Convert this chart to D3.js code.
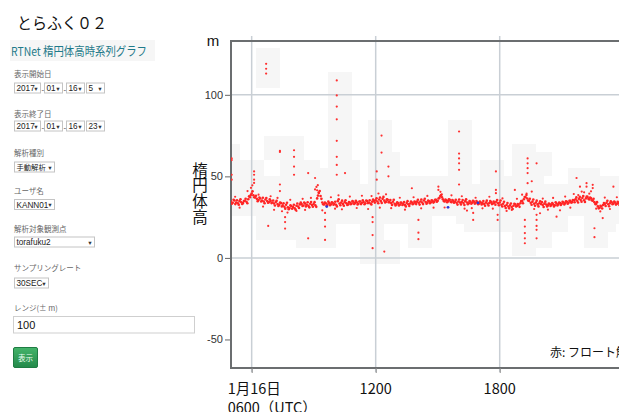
<!DOCTYPE html>
<html>
<head>
<meta charset="utf-8">
<script src="https://cdn.jsdelivr.net/npm/d3@7"></script>
<style>
  html, body { margin: 0; padding: 0; background: #fff; }
  svg { display: block; }
</style>
</head>
<body>
<svg id="page" width="619" height="412"></svg>
<script>
// ---- Form values shown in the side panel ----
const pageTitle = "とらふく０２";
const panelHeading = "RTNet 楕円体高時系列グラフ";
const startDate = ["2017", "01", "16", "5"];
const endDate = ["2017", "01", "16", "23"];
const analysisType = "手動解析";
const userName = "KANN01";
const stationName = "torafuku2";
const samplingRate = "30SEC";
const rangeValue = "100";

// ---- Chart data (UTC, 2017-01-16) ----
const traceStart = "05:00";          // first sample on the hour
const traceMidStart = "05:02:30";    // samples between them
const traceStepMinutes = 5;
// ellipsoidal height (m), one value per 5 minutes, one row per hour
const traceValues = [
  34.5, 33.8, 35.2, 34.0, 33.5, 34.8, 34.1, 33.6, 35.0, 34.4, 36.0, 37.2,
  39.5, 38.4, 37.0, 36.2, 35.5, 36.4, 35.2, 34.6, 35.8, 34.9, 34.2, 35.0,
  34.0, 33.4, 34.3, 33.1, 32.5, 33.6, 32.2, 31.4, 32.6, 31.0, 30.6, 31.8,
  31.2, 30.4, 32.0, 31.5, 32.8, 33.0, 32.1, 33.3, 32.6, 31.9, 33.2, 32.4,
  33.0, 32.2, 36.5, 39.8, 38.0, 34.0, 32.8, 33.5, 32.7, 33.6, 32.9, 33.8,
  33.1, 32.6, 34.8, 33.4, 33.9, 33.0, 34.2, 33.5, 32.8, 34.0, 33.3, 34.4,
  33.6, 34.1, 33.2, 34.6, 33.8, 34.3, 33.5, 34.9, 34.0, 33.4, 34.5, 35.0,
  35.4, 34.6, 35.8, 34.8, 36.2, 35.1, 34.5, 35.6, 34.2, 33.6, 34.4, 33.2,
  32.8, 33.5, 32.6, 33.8, 33.0, 32.4, 33.6, 32.9, 33.4, 34.0, 33.3, 34.2,
  34.5, 33.8, 34.6, 34.0, 35.2, 34.3, 33.9, 34.7, 34.1, 35.0, 34.4, 35.6,
  35.0, 36.8, 38.5, 36.0, 34.6, 35.4, 34.8, 35.6, 34.2, 35.0, 34.4, 33.8,
  34.6, 33.9, 34.3, 33.6, 34.8, 34.0, 33.5, 34.4, 33.8, 34.5, 33.6, 34.1,
  33.4, 34.0, 33.6, 33.1, 33.9, 33.2, 33.7, 34.2, 33.3, 33.8, 34.4, 33.5,
  34.0, 32.6, 33.2, 31.8, 32.4, 31.5, 32.2, 31.2, 32.0, 32.8, 31.9, 32.6,
  33.5, 34.8, 36.0, 37.2, 36.4, 35.0, 33.8, 34.5, 33.2, 33.9, 32.8, 33.5,
  33.0, 32.4, 33.3, 32.7, 32.2, 33.1, 32.5, 32.9, 32.3, 33.4, 32.8, 33.6,
  33.2, 34.0, 33.5, 34.4, 33.8, 35.0, 34.2, 35.4, 35.9, 35.0, 36.2, 35.6,
  36.8, 35.4, 36.5, 37.4, 35.8, 36.6, 35.1, 34.2, 33.0, 31.6, 30.8, 31.5,
  32.4, 33.0, 33.8, 32.9, 33.5, 34.1, 33.3, 33.9, 33.2, 33.7, 34.0, 33.4
];
// the in-between samples (2.5 minutes later), noisier
const traceMidValues = [
  33.2, 35.6, 33.0, 35.4, 32.6, 35.9, 33.1, 34.9, 36.3, 33.5, 37.8, 38.6,
  40.8, 37.2, 38.1, 34.8, 37.0, 34.6, 36.9, 33.5, 36.7, 33.8, 35.9, 33.6,
  35.2, 32.1, 35.0, 31.8, 33.9, 31.5, 33.5, 30.2, 33.8, 29.8, 32.2, 30.1,
  32.6, 29.6, 33.4, 30.6, 34.0, 31.8, 33.9, 31.6, 34.1, 31.0, 34.3, 31.4,
  34.2, 31.3, 38.2, 41.0, 36.2, 32.9, 34.0, 32.0, 34.5, 32.3, 34.1, 32.6,
  34.4, 31.6, 35.9, 32.3, 35.1, 32.0, 35.3, 32.4, 34.2, 32.9, 34.8, 33.1,
  35.0, 32.8, 34.6, 33.0, 35.4, 32.9, 35.1, 33.6, 35.3, 32.8, 35.8, 33.9,
  36.6, 33.5, 37.0, 33.7, 37.4, 34.0, 35.9, 34.2, 35.5, 32.5, 35.6, 32.1,
  34.1, 32.2, 33.9, 32.5, 34.3, 31.6, 34.8, 31.8, 34.6, 32.9, 34.5, 33.0,
  35.7, 32.7, 35.8, 33.0, 36.3, 33.2, 35.2, 33.5, 35.4, 33.9, 35.7, 34.4,
  36.4, 38.0, 37.2, 34.9, 35.8, 34.1, 36.0, 34.4, 35.5, 33.8, 35.6, 32.7,
  35.8, 32.8, 35.5, 32.4, 35.9, 32.9, 34.8, 33.2, 35.0, 33.3, 34.9, 32.9,
  34.6, 32.8, 34.9, 32.0, 35.1, 32.1, 34.9, 33.0, 34.6, 32.6, 35.5, 32.3,
  35.2, 31.5, 34.4, 30.6, 33.6, 30.4, 33.4, 30.0, 33.2, 31.6, 33.1, 31.3,
  34.8, 33.5, 37.3, 38.6, 35.2, 36.3, 32.6, 35.8, 32.0, 35.1, 31.6, 34.7,
  34.2, 31.2, 34.5, 31.5, 33.4, 31.9, 33.7, 31.6, 34.1, 32.2, 34.0, 32.4,
  34.4, 32.8, 34.7, 33.2, 35.0, 33.9, 35.5, 34.1, 37.1, 34.0, 37.4, 34.5,
  38.0, 34.3, 37.7, 36.2, 37.0, 35.4, 36.3, 33.0, 34.2, 30.4, 32.0, 30.3,
  33.6, 31.8, 35.0, 31.7, 34.7, 32.9, 34.5, 32.7, 34.4, 32.5, 35.2, 32.2
];
// float solutions scattered just off the main track
const floatScatter = [
  ["05:12", 37.5], ["05:25", 30.8], ["05:48", 41.0], ["05:58", 43.0], ["06:02", 44.5],
  ["06:20", 38.8], ["06:33", 31.5], ["06:55", 37.8], ["07:05", 29.5], ["07:15", 36.8],
  ["07:28", 28.6], ["07:44", 27.8], ["07:52", 35.6], ["08:10", 28.8], ["08:28", 36.2],
  ["08:35", 29.4], ["08:52", 36.8], ["09:08", 43.5], ["09:10", 41.5], ["09:12", 44.6],
  ["09:14", 40.2], ["09:25", 29.2], ["09:50", 37.2], ["10:02", 30.2], ["10:12", 38.4],
  ["10:22", 29.8], ["10:45", 37.6], ["11:05", 30.6], ["11:20", 38.1], ["11:38", 30.0],
  ["11:48", 37.9], ["12:08", 39.5], ["12:12", 30.8], ["12:30", 39.0], ["12:45", 30.5],
  ["13:10", 36.9], ["13:25", 29.6], ["13:50", 37.2], ["14:12", 30.4], ["14:30", 38.0],
  ["14:48", 30.8], ["15:08", 40.5], ["15:12", 39.0], ["15:20", 30.9], ["15:40", 38.4],
  ["16:10", 37.8], ["16:18", 30.2], ["16:50", 36.9], ["17:10", 30.4], ["17:30", 37.5],
  ["17:40", 30.2], ["18:08", 36.5], ["18:20", 28.8], ["18:35", 29.4], ["18:50", 36.2],
  ["19:05", 38.8], ["19:18", 39.5], ["19:40", 30.0], ["20:05", 36.4], ["20:20", 29.6],
  ["20:35", 36.8], ["20:55", 29.2], ["21:10", 37.6], ["21:25", 30.8], ["21:35", 39.2],
  ["21:48", 38.5], ["22:05", 40.2], ["22:20", 39.4], ["22:25", 40.8], ["22:40", 30.2],
  ["22:52", 28.5], ["23:05", 37.0], ["23:20", 30.0], ["23:40", 37.2]
];
// float solutions far from the track
const floatOutliers = [
  ["05:02", 61], ["05:02", 60], ["05:02", 51], ["05:02", 48],
  ["06:07", 53], ["06:07", 51], ["06:07", 48], ["06:07", 46],
  ["06:42", 119], ["06:42", 116], ["06:42", 113],
  ["06:48", 19.6],
  ["07:22", 65.6], ["07:22", 65], ["07:22", 45], ["07:22", 41],
  ["07:37", 25], ["07:37", 22], ["07:37", 18],
  ["08:03", 66], ["08:03", 62], ["08:03", 56], ["08:03", 51],
  ["08:44", 52], ["08:44", 12],
  ["09:04", 49], ["09:04", 42],
  ["09:33", 27.6], ["09:33", 23.3], ["09:33", 19.2], ["09:33", 11],
  ["10:07", 108.8], ["10:07", 99.6], ["10:07", 92.8], ["10:07", 85], ["10:07", 71.8],
  ["10:07", 62], ["10:07", 57], ["10:07", 51],
  ["10:31", 52],
  ["11:51", 14], ["11:51", 6], ["11:51", 25], ["11:51", 22],
  ["12:03", 53], ["12:03", 48],
  ["12:17", 75], ["12:17", 64.6],
  ["12:25", 3.9],
  ["12:37", 56], ["12:37", 50],
  ["13:45", 42.7],
  ["14:04", 23.3], ["14:04", 15.5], ["14:04", 11.5],
  ["15:02", 43.7], ["15:02", 41.7],
  ["16:02", 77.5], ["16:02", 64], ["16:02", 61], ["16:02", 58], ["16:02", 54], ["16:02", 45],
  ["16:25", 29], ["16:39", 30.5], ["16:43", 23.3], ["16:43", 27.6],
  ["17:49", 53], ["17:49", 41.7], ["17:49", 39.7],
  ["17:54", 26.4], ["17:54", 23.3],
  ["18:44", 41.7],
  ["19:13", 23.3], ["19:13", 19.2], ["19:13", 15.2], ["19:13", 12], ["19:13", 9],
  ["19:21", 45.8], ["19:21", 61], ["19:21", 58], ["19:21", 55], ["19:21", 52],
  ["19:33", 47], ["19:33", 40.7],
  ["19:47", 58], ["19:47", 26.4], ["19:47", 23.3], ["19:47", 19.6], ["19:47", 17.2], ["19:47", 12],
  ["19:57", 27.4],
  ["20:45", 25.3],
  ["21:43", 49], ["21:53", 43.7], ["21:58", 40.7],
  ["22:12", 45.8], ["22:12", 43.7],
  ["22:30", 44.8], ["22:30", 42.8],
  ["22:35", 18.2], ["22:35", 12.7],
  ["22:59", 24.4],
  ["23:30", 43.7]
];
// fixed solutions
const fixPoints = [["09:38", 31.5], ["15:30", 31.0], ["16:57", 33.7]];

const yTickValues = [100, 50, 0, -50];
const yGridValues = [100, 0];
const xTickTimes = ["06:00", "12:00", "18:00"];
const xTickLabels = [["1月16日", "0600（UTC）"], ["1200"], ["1800"]];
const yTitle = "楕円体高";
const yUnit = "m";
const legendText = "赤: フロート解";

// ---- helpers ----
const parseT = d3.timeParse("%Y-%m-%d %H:%M");
const parseTs = d3.timeParse("%Y-%m-%d %H:%M:%S");
const t = hm => parseT("2017-01-16 " + hm);
const t0 = t(traceStart);
const t0mid = parseTs("2017-01-16 " + traceMidStart);
const trace = traceValues.map((v, i) => [d3.timeMinute.offset(t0, i * traceStepMinutes), v])
  .concat(traceMidValues.map((v, i) => [d3.timeMinute.offset(t0mid, i * traceStepMinutes), v]));
const scatter = floatScatter.concat(floatOutliers).map(([hm, v]) => [t(hm), v]);
const fixed = fixPoints.map(([hm, v]) => [t(hm), v]);

const svg = d3.select("#page");
const W = 619, H = 412;
svg.append("rect").attr("width", W).attr("height", H).attr("fill", "#fff");

const CJK = "'Noto Sans CJK JP', 'Noto Sans', sans-serif";
const LAT = "'Liberation Sans', Arial, sans-serif";

// ---- side panel ----
const panel = svg.append("g");
panel.append("text").attr("x", 17).attr("y", 29)
  .attr("font-family", CJK).attr("font-size", 16).attr("fill", "#111")
  .attr("textLength", 90).attr("lengthAdjust", "spacingAndGlyphs").text(pageTitle);
panel.append("rect").attr("x", 10).attr("y", 40).attr("width", 145).attr("height", 21)
  .attr("fill", "#f6f6f6");
panel.append("text").attr("x", 11).attr("y", 56)
  .attr("font-family", CJK).attr("font-size", 12).attr("fill", "#1f7a8a")
  .attr("textLength", 136).attr("lengthAdjust", "spacingAndGlyphs").text(panelHeading);

function label(y, s) {
  panel.append("text").attr("x", 14).attr("y", y)
    .attr("font-family", CJK).attr("font-size", 7.5).attr("fill", "#666").text(s);
}
function select(x, y, w, s, font) {
  const g = panel.append("g");
  g.append("rect").attr("x", x + 0.5).attr("y", y + 0.5).attr("width", w).attr("height", 10)
    .attr("fill", "#fff").attr("stroke", "#c4c4c4");
  g.append("text").attr("x", x + 2.5).attr("y", y + 8.6)
    .attr("font-family", font || LAT).attr("font-size", font ? 7.3 : 8.2).attr("fill", "#222").text(s);
  g.append("text").attr("x", x + w - 4).attr("y", y + 8)
    .attr("font-family", LAT).attr("font-size", 5.5).attr("fill", "#333")
    .attr("text-anchor", "middle").text("▼");
}
function dateRow(y, vals) {
  const xs = [[14, 26], [44, 18], [66, 18], [86, 18]];
  vals.forEach((v, i) => select(xs[i][0], y, xs[i][1], v));
  [41.5, 63.5].forEach(x => panel.append("text").attr("x", x).attr("y", y + 9.5)
    .attr("font-family", LAT).attr("font-size", 8).attr("fill", "#444").text("-"));
}
label(77, "表示開始日");
dateRow(82.5, startDate);
label(116.5, "表示終了日");
dateRow(120.5, endDate);
label(155.5, "解析種別");
select(14, 161.5, 40, analysisType, CJK);
label(194, "ユーザ名");
select(14, 199, 40, userName);
label(231.5, "解析対象観測点");
select(14, 236.5, 80, stationName);
label(271, "サンプリングレート");
select(14, 277.5, 34, samplingRate);
label(310.5, "レンジ(± m)");
panel.append("rect").attr("x", 13.5).attr("y", 316.5).attr("width", 181).attr("height", 16.5)
  .attr("fill", "#fff").attr("stroke", "#cfcfcf");
panel.append("text").attr("x", 17).attr("y", 328.5)
  .attr("font-family", LAT).attr("font-size", 11).attr("fill", "#111").text(rangeValue);
const grad = svg.append("defs").append("linearGradient").attr("id", "btn")
  .attr("x1", 0).attr("y1", 0).attr("x2", 0).attr("y2", 1);
grad.append("stop").attr("offset", 0).attr("stop-color", "#44b46a");
grad.append("stop").attr("offset", 1).attr("stop-color", "#23894a");
panel.append("rect").attr("x", 13.5).attr("y", 347.5).attr("width", 24).attr("height", 20)
  .attr("rx", 1.5).attr("fill", "url(#btn)").attr("stroke", "#1f7c43");
panel.append("text").attr("x", 25.5).attr("y", 360.5).attr("text-anchor", "middle")
  .attr("font-family", CJK).attr("font-size", 7.5).attr("fill", "#eafff0").text("表示");

// ---- chart ----
const plotLeft = 231, plotTop = 41, plotBottom = 368;
const x = d3.scaleTime().domain([t("05:00"), d3.timeHour.offset(t("05:00"), 19)])
  .range([plotLeft, plotLeft + 19 * 20.67]);
const y = d3.scaleLinear().domain([-67.5, 133]).range([plotBottom, plotTop]);

const chart = svg.append("g");
chart.append("clipPath").attr("id", "plot").append("rect")
  .attr("x", plotLeft).attr("y", plotTop).attr("width", W - plotLeft).attr("height", plotBottom - plotTop);

// soft grey blocks around the plotted points
const allPts = trace.concat(scatter, fixed);
const blocks = new Set();
allPts.forEach(([d, v]) => {
  const bx = Math.floor(x(d) / 8), by = Math.floor(y(v) / 8);
  for (let i = -1; i <= 1; i++) for (let j = -1; j <= 1; j++) blocks.add((bx + i) + "," + (by + j));
});
chart.append("g").attr("clip-path", "url(#plot)").selectAll("rect")
  .data([...blocks].map(s => s.split(",").map(Number)))
  .join("rect").attr("x", d => d[0] * 8).attr("y", d => d[1] * 8)
  .attr("width", 8).attr("height", 8).attr("fill", "#f6f6f6");

// grid lines
chart.append("g").selectAll("line").data(xTickTimes).join("line")
  .attr("x1", d => x(t(d))).attr("x2", d => x(t(d)))
  .attr("y1", plotTop - 5).attr("y2", plotBottom + 4)
  .attr("stroke", "#c9cfd5").attr("stroke-width", 1.5);
chart.append("g").selectAll("line").data(yGridValues).join("line")
  .attr("x1", plotLeft).attr("x2", W).attr("y1", d => y(d)).attr("y2", d => y(d))
  .attr("stroke", "#c9cfd5").attr("stroke-width", 1.5);

// frame: top, left, bottom
chart.append("path")
  .attr("d", `M${W},${plotTop}H${plotLeft}V${plotBottom}H${W}`)
  .attr("fill", "none").attr("stroke", "#6b6e70").attr("stroke-width", 2);

// y axis
const yAxis = chart.append("g").attr("transform", `translate(${plotLeft - 1},0)`)
  .call(d3.axisLeft(y).tickValues(yTickValues).tickSize(5).tickPadding(2).tickFormat(d3.format("d")));
yAxis.select(".domain").remove();
yAxis.selectAll("line").attr("stroke", "#666");
yAxis.selectAll("text").attr("font-family", LAT).attr("font-size", 11).attr("fill", "#333")
  .text(d => d < 0 ? "-" + Math.abs(d) : d);

// x axis
const xAxis = chart.append("g").attr("transform", `translate(0,${plotBottom})`)
  .call(d3.axisBottom(x).tickValues(xTickTimes.map(t)).tickSize(5).tickFormat(""));
xAxis.select(".domain").remove();
xAxis.selectAll("line").attr("stroke", "#888");
xTickTimes.forEach((hm, i) => {
  const lines = xTickLabels[i];
  const first = lines.length > 1;
  const txt = chart.append("text").attr("font-family", CJK).attr("font-size", 14.5)
    .attr("fill", "#111").attr("text-anchor", first ? "start" : "middle");
  lines.forEach((s, k) => txt.append("tspan")
    .attr("x", first ? x(t(hm)) - 24 : x(t(hm))).attr("y", 394 + k * 18.5).text(s));
});

// axis title (stacked vertically) and unit
chart.append("text").attr("x", 213).attr("y", 46).attr("text-anchor", "middle")
  .attr("font-family", LAT).attr("font-size", 15).attr("fill", "#111").text(yUnit);
chart.append("text").attr("font-family", CJK).attr("font-size", 15.5)
  .attr("fill", "#111").attr("writing-mode", "tb").attr("letter-spacing", 0.3)
  .attr("x", 200).attr("y", 162).text(yTitle);

// points
const pts = chart.append("g").attr("clip-path", "url(#plot)");
pts.selectAll("circle.scatter").data(scatter).join("circle").attr("class", "scatter")
  .attr("cx", d => x(d[0])).attr("cy", d => y(d[1])).attr("r", 1.1).attr("fill", "#ff3030");
pts.selectAll("circle.trace").data(trace).join("circle").attr("class", "trace")
  .attr("cx", d => x(d[0])).attr("cy", d => y(d[1])).attr("r", 1.3).attr("fill", "#ff2424");
pts.selectAll("circle.fix").data(fixed).join("circle").attr("class", "fix")
  .attr("cx", d => x(d[0])).attr("cy", d => y(d[1])).attr("r", 1.4).attr("fill", "#2a36d8");

// legend
chart.append("text").attr("x", 550).attr("y", 357)
  .attr("font-family", CJK).attr("font-size", 12).attr("fill", "#111").text(legendText);
</script>
</body>
</html>
